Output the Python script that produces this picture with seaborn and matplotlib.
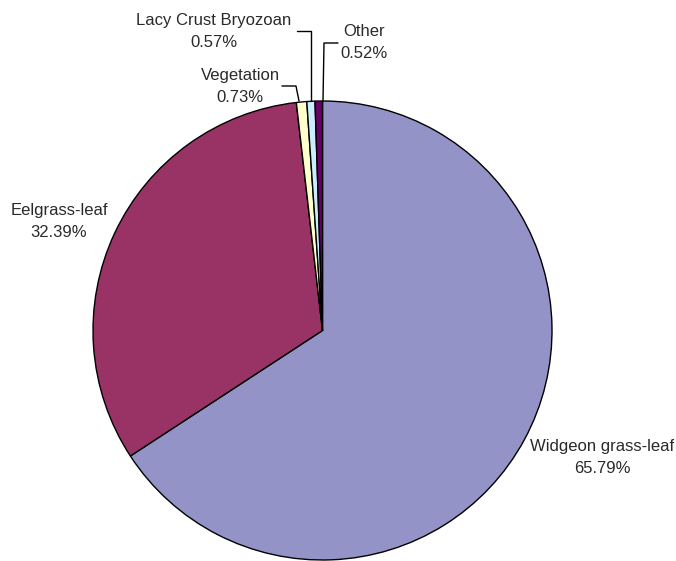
import matplotlib
matplotlib.use("Agg")
import matplotlib.pyplot as plt
import seaborn as sns

categories = ["Widgeon grass-leaf", "Eelgrass-leaf", "Vegetation", "Lacy Crust Bryozoan", "Other"]
values = [65.79, 32.39, 0.73, 0.57, 0.52]
colors = ["#9393C8", "#993366", "#FFFFCC", "#CCECFF", "#660066"]

sns.set_theme(style="white")
plt.rcParams["font.family"] = ["Liberation Sans", "DejaVu Sans"]

W, H = 676, 561
fig = plt.figure(figsize=(W / 100, H / 100), dpi=100)
ax = fig.add_axes([0, 0, 1, 1])
ax.set_xlim(0, W)
ax.set_ylim(H, 0)
ax.set_aspect("equal")
ax.axis("off")

cx, cy, r = 322.5, 330.5, 229.5
# pie drawn in flipped y-axis: counterclock=True becomes visually clockwise
ax.pie(values, colors=colors, startangle=-90, counterclock=True,
       center=(cx, cy), radius=r,
       wedgeprops=dict(edgecolor="black", linewidth=1.0))
ax.set_xlim(0, W)
ax.set_ylim(H, 0)

tc = "#2a2a2a"
fs = 12
labels = [
    (categories[0], values[0], 602, 446),
    (categories[1], values[1], 59, 210),
    (categories[2], values[2], 240, 75),
    (categories[3], values[3], 214, 20),
    (categories[4], values[4], 364, 31),
]
for name, v, x, y in labels:
    ax.text(x, y, name, ha="center", va="center", fontsize=fs, color=tc)
    ax.text(x, y + 22, f"{v:.2f}%", ha="center", va="center", fontsize=fs, color=tc)

# leader lines
ax.plot([282, 296, 299], [86, 86, 101], color="black", lw=1)
ax.plot([297, 311, 311], [31, 31, 101], color="black", lw=1)
ax.plot([338, 324, 323], [43, 43, 101], color="black", lw=1)

fig.savefig("out.png", dpi=100)
